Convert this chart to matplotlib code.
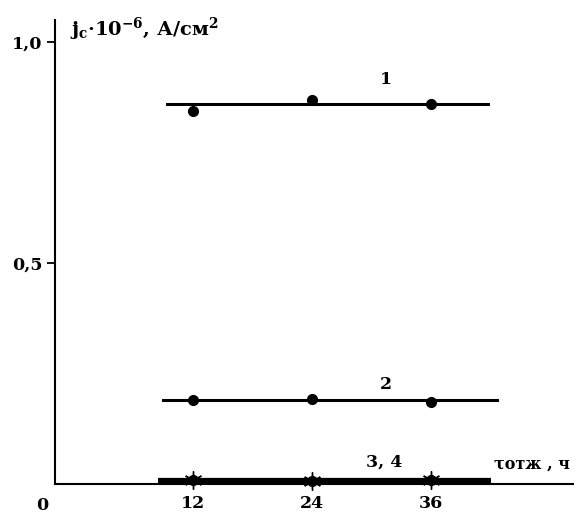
import matplotlib
matplotlib.use("Agg")
import matplotlib.pyplot as plt

plt.rcParams['font.family'] = ['DejaVu Serif']
plt.rcParams['font.weight'] = 'bold'
plt.rcParams['mathtext.fontset'] = 'custom'
plt.rcParams['mathtext.rm'] = 'DejaVu Serif:bold'
plt.rcParams['mathtext.it'] = 'DejaVu Serif:bold'
plt.rcParams['mathtext.bf'] = 'DejaVu Serif:bold'

# data
times = [12, 24, 36]
s1 = [0.845, 0.870, 0.860]
s2 = [0.190, 0.192, 0.186]
s34 = [0.008, 0.006, 0.008]
fit_x = [9.4, 41.7]
fit1 = [0.86, 0.86]
fit_x2 = [9.0, 42.6]
fit2 = [0.19, 0.19]
fit_x3 = [8.5, 42.0]
fit3 = [0.006, 0.006]
xticks = [12, 24, 36]
xticklabels = ['12', '24', '36']
yticks = [0.5, 1.0]
yticklabels = ['0,5', '1,0']

fig = plt.figure(figsize=(5.74, 5.17), dpi=100)
ax = fig.add_axes([55/574, 33/517, (574-55)/574, (484-20)/517])
ax.set_xlim(-1.85, 50.4)
ax.set_ylim(0, 1.05)

ax.plot(fit_x, fit1, color='black', lw=2.2)
ax.plot(times, s1, 'o', color='black', ms=7)
ax.plot(fit_x2, fit2, color='black', lw=2.2)
ax.plot(times, s2, 'o', color='black', ms=7)
ax.plot(fit_x3, fit3, color='black', lw=4.5, solid_capstyle='butt', clip_on=False)
ax.plot(times, s34, 'o', color='black', ms=7, clip_on=False)
ax.plot(times, s34, marker=(6, 2, 0), ls='none', color='black', ms=13, mew=1.0, clip_on=False)

for sp in ['top', 'right']:
    ax.spines[sp].set_visible(False)
ax.spines['left'].set_linewidth(1.5)
ax.spines['bottom'].set_linewidth(1.5)

ax.set_xticks(xticks)
ax.set_xticklabels(xticklabels, fontsize=12.5, fontweight='bold')
ax.tick_params(axis='x', length=0, pad=8)
ax.set_yticks(yticks)
ax.set_yticklabels(yticklabels, fontsize=12.5, fontweight='bold')
ax.tick_params(axis='y', length=6, width=1.3, direction='out', pad=3)

ax.text(-0.025, -0.046, '0', transform=ax.transAxes, fontsize=12.5, fontweight='bold',
        ha='center', va='center')

ax.text(0.028, 0.98, 'j$_{\\mathrm{c}}$·10$^{-6}$, А/см$^{2}$', transform=ax.transAxes,
        fontsize=14, fontweight='bold', ha='left', va='center')
ax.text(0.845, 0.042, 'τотж , ч', transform=ax.transAxes,
        fontsize=11.5, fontweight='bold', ha='left', va='center')

ax.text(31.5, 0.915, '1', fontsize=12.5, fontweight='bold', ha='center', va='center')
ax.text(31.5, 0.225, '2', fontsize=12.5, fontweight='bold', ha='center', va='center')
ax.text(31.3, 0.05, '3, 4', fontsize=12.5, fontweight='bold', ha='center', va='center')

fig.savefig('out.png', dpi=100)
